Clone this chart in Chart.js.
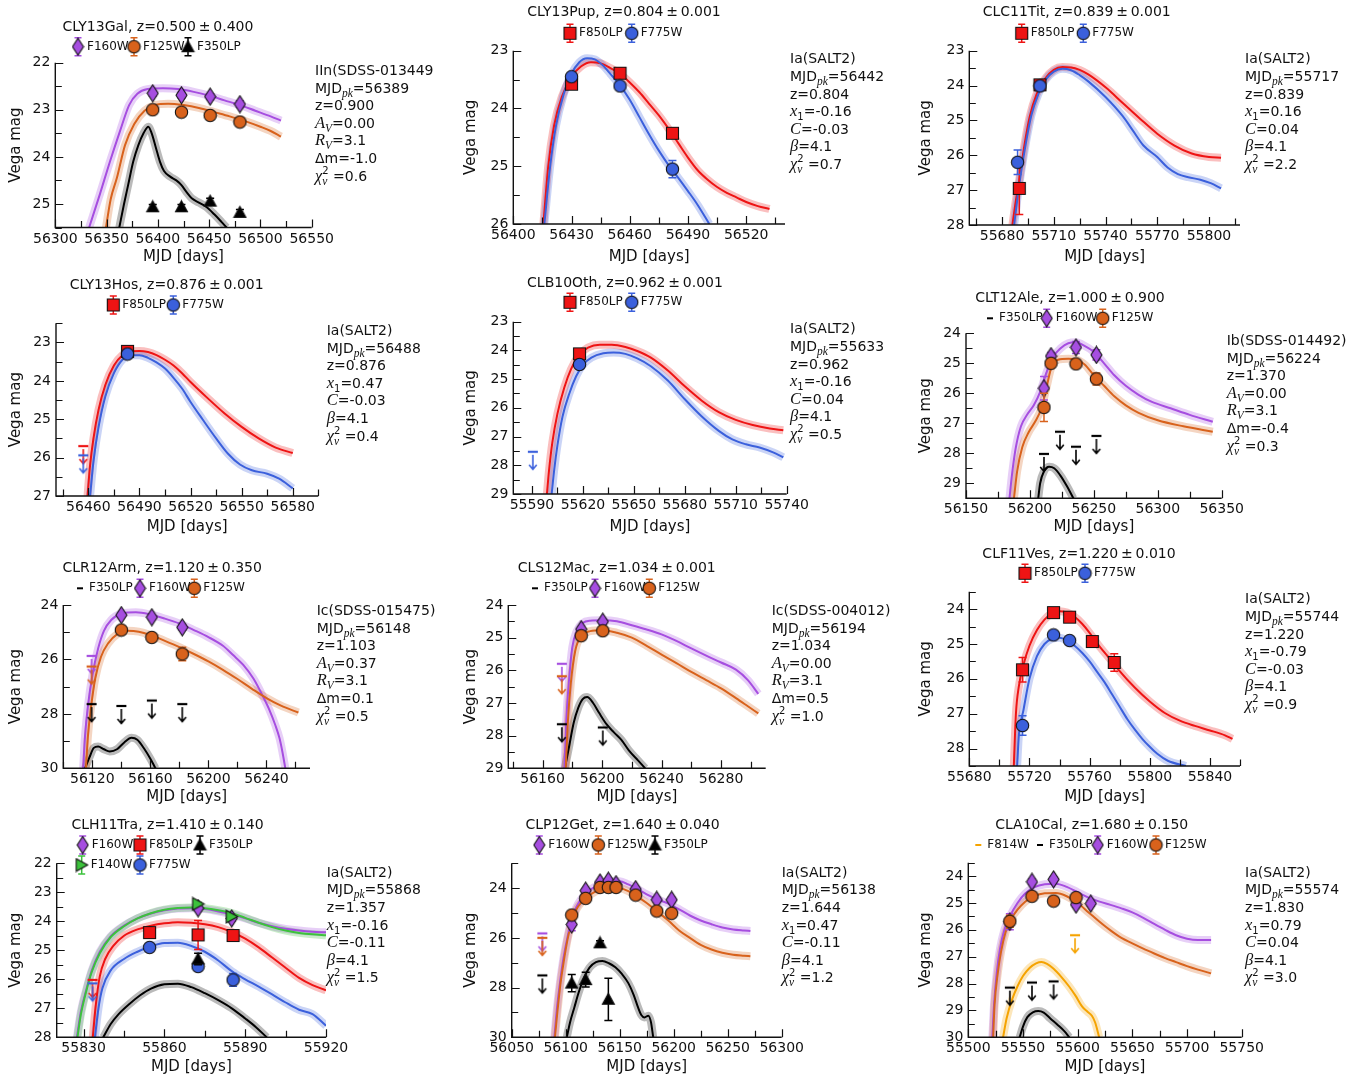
<!DOCTYPE html>
<html>
<head>
<meta charset="utf-8">
<script src="https://cdn.jsdelivr.net/npm/chart.js@4.4.1/dist/chart.umd.min.js"></script>
<style>
  html, body { margin: 0; padding: 0; background: #fff; width: 1364px; height: 1082px; overflow: hidden; }
  canvas { position: absolute; }
</style>
</head>
<body>
<script>
// ===================== Light-curve data =====================
// Each supernova: photometry (MJD, Vega mag, 1-sigma error), upper limits,
// and best-fit model curves as [MJD, mag] samples.

// ---- CLY13Gal ----
const galMjd = [56395, 56423, 56451, 56480];
const galF160W = [22.65, 22.69, 22.72, 22.88];
const galF160WErr = [0.06, 0.06, 0.06, 0.07];
const galF125W = [23.0, 23.05, 23.12, 23.26];
const galF125WErr = [0.05, 0.05, 0.05, 0.06];
const galF350LP = [25.06, 25.06, 24.94, 25.18];
const galF350LPErr = [0.05, 0.05, 0.06, 0.06];
const galModelF160W = [[56333,25.5],[56343.5,24.79],[56353,24.12],[56363,23.46],[56372,22.9],[56380,22.66],[56390,22.56],[56405,22.54],[56420,22.56],[56435,22.62],[56450,22.7],[56465,22.8],[56480,22.9],[56495,23.02],[56510,23.14],[56520,23.23]];
const galModelF125W = [[56349.4,25.5],[56354,24.9],[56360,24.45],[56368,23.75],[56377,23.3],[56387,23.02],[56397,22.9],[56410,22.87],[56425,22.9],[56440,22.96],[56455,23.05],[56470,23.14],[56485,23.24],[56500,23.36],[56510,23.45],[56520,23.57]];
const galModelF350LP = [[56362.4,25.5],[56367,25.0],[56371,24.6],[56376,24.1],[56381,23.75],[56386,23.5],[56390.7,23.36],[56394,23.5],[56398,23.8],[56402,24.1],[56406,24.3],[56412,24.42],[56418,24.5],[56423,24.6],[56428,24.75],[56433,24.88],[56440,24.97],[56447,25.06],[56455,25.22],[56462,25.38],[56467,25.5]];
const galXTicks = [56300, 56350, 56400, 56450, 56500, 56550];
const galYTicks = [22, 23, 24, 25];

// ---- CLY13Pup ----
const pupMjd = [56430, 56455, 56482];
const pupF850LP = [23.58, 23.39, 24.43];
const pupF850LPErr = [0.05, 0.05, 0.07];
const pupF775W = [23.45, 23.61, 25.05];
const pupF775WErr = [0.05, 0.05, 0.15];
const pupModelF850LP = [[56415.5,26],[56418,25.0],[56421,24.3],[56425,23.8],[56430,23.45],[56435,23.27],[56440,23.2],[56445,23.22],[56450,23.3],[56455,23.4],[56460,23.55],[56465,23.72],[56470,23.92],[56475,24.12],[56480,24.35],[56485,24.6],[56490,24.85],[56495,25.07],[56500,25.23],[56505,25.36],[56510,25.46],[56515,25.54],[56520,25.62],[56526,25.69],[56532,25.74]];
const pupModelF775W = [[56416,26],[56419,25.0],[56422,24.3],[56426,23.75],[56430,23.4],[56434,23.2],[56438,23.13],[56442,23.15],[56446,23.25],[56450,23.4],[56455,23.6],[56460,23.85],[56465,24.15],[56470,24.45],[56475,24.73],[56480,24.98],[56485,25.2],[56490,25.43],[56495,25.67],[56501,26.0]];
const pupXTicks = [56400, 56430, 56460, 56490, 56520];
const pupYTicks = [23, 24, 25, 26];

// ---- CLC11Tit ----
const titMjdF850LP = [55690, 55702];
const titF850LP = [26.95, 23.98];
const titF850LPErr = [0.75, 0.06];
const titMjdF775W = [55689, 55702];
const titF775W = [26.2, 24.01];
const titF775WErr = [0.35, 0.06];
const titModelF850LP = [[55686,28],[55688,27.3],[55690,26.7],[55693,25.7],[55696,24.9],[55700,24.25],[55705,23.8],[55710,23.55],[55715,23.47],[55720,23.48],[55725,23.55],[55730,23.68],[55740,24.05],[55750,24.5],[55760,24.95],[55770,25.38],[55780,25.72],[55790,25.95],[55800,26.05],[55807,26.07]];
const titModelF775W = [[55687,28],[55689,27.2],[55691,26.5],[55694,25.6],[55697,24.85],[55701,24.25],[55705,23.85],[55710,23.6],[55715,23.52],[55720,23.56],[55725,23.7],[55730,23.88],[55740,24.33],[55750,24.88],[55756,25.3],[55762,25.72],[55770,26.05],[55776,26.35],[55782,26.54],[55788,26.63],[55795,26.7],[55801,26.8],[55807,26.95]];
const titXTicks = [55680, 55710, 55740, 55770, 55800];
const titYTicks = [23, 24, 25, 26, 27, 28];

// ---- CLY13Hos ----
const hosMjd = [56483];
const hosF850LP = [23.23];
const hosF850LPErr = [0.05];
const hosF775W = [23.3];
const hosF775WErr = [0.05];
const hosLimMjd = [56457];
const hosLimF850LP = [25.7];
const hosLimF775W = [25.94];
const hosModelF850LP = [[56459.5,27],[56461,26.2],[56463,25.5],[56466,24.75],[56470,24.1],[56475,23.6],[56480,23.33],[56485,23.23],[56490,23.22],[56495,23.25],[56500,23.33],[56505,23.45],[56510,23.6],[56515,23.8],[56520,24.03],[56530,24.45],[56540,24.85],[56550,25.2],[56560,25.5],[56570,25.74],[56580,25.88]];
const hosModelF775W = [[56461,27],[56463,26.1],[56466,25.2],[56470,24.4],[56475,23.8],[56480,23.45],[56485,23.33],[56490,23.33],[56495,23.4],[56500,23.52],[56505,23.68],[56510,23.92],[56515,24.2],[56520,24.55],[56527,25.0],[56535,25.5],[56542,25.9],[56549,26.18],[56556,26.33],[56565,26.42],[56572,26.55],[56580,26.8]];
const hosXTicks = [56460, 56490, 56520, 56550, 56580];
const hosYTicks = [23, 24, 25, 26, 27];

// ---- CLB10Oth ----
const othMjd = [55618];
const othF850LP = [24.12];
const othF850LPErr = [0.06];
const othF775W = [24.49];
const othF775WErr = [0.06];
const othLimMjd = [55590.5];
const othLimF775W = [27.53];
const othModelF850LP = [[55598.8,29],[55600,28.2],[55602,27.2],[55605,26.2],[55609,25.3],[55613,24.65],[55618,24.15],[55623,23.9],[55630,23.8],[55637,23.8],[55645,23.88],[55652,24.02],[55660,24.25],[55670,24.7],[55680,25.25],[55690,25.75],[55700,26.15],[55710,26.42],[55720,26.6],[55730,26.72],[55738,26.78]];
const othModelF775W = [[55601.6,29],[55603,28.2],[55605,27.3],[55608,26.3],[55612,25.5],[55616,24.9],[55620,24.5],[55625,24.25],[55632,24.1],[55638,24.07],[55645,24.12],[55652,24.28],[55660,24.55],[55670,25.05],[55680,25.7],[55690,26.3],[55700,26.8],[55708,27.1],[55716,27.27],[55724,27.38],[55732,27.55],[55738,27.72]];
const othXTicks = [55590, 55620, 55650, 55680, 55710, 55740];
const othYTicks = [23, 24, 25, 26, 27, 28, 29];

// ---- CLT12Ale ----
const aleMjd = [56211, 56216.5, 56236, 56252];
const aleF160W = [25.83, 24.76, 24.47, 24.72];
const aleF160WErr = [0.39, 0.12, 0.2, 0.17];
const aleF125W = [26.47, 25.0, 25.02, 25.52];
const aleF125WErr = [0.47, 0.08, 0.08, 0.2];
const aleLimMjdF350LP = [56211, 56223.5, 56236, 56252];
const aleLimF350LP = [28.02, 27.28, 27.78, 27.42];
const aleModelF350LP = [[56206.5,29.5],[56208,29.0],[56211,28.6],[56215,28.45],[56219,28.5],[56224,28.75],[56229,29.1],[56234,29.5]];
const aleModelF160W = [[56184,29.5],[56186,28.7],[56189,27.8],[56193,27.1],[56198,26.7],[56203,26.4],[56208,25.95],[56213,25.3],[56218,24.8],[56224,24.5],[56230,24.33],[56236,24.3],[56242,24.4],[56250,24.62],[56258,25.0],[56266,25.4],[56275,25.75],[56285,26.05],[56295,26.28],[56310,26.5],[56325,26.72],[56343,26.95]];
const aleModelF125W = [[56187.5,29.5],[56190,28.6],[56194,27.8],[56199,27.3],[56204,26.95],[56209,26.5],[56213,25.8],[56217,25.1],[56222,24.88],[56230,24.85],[56236,24.87],[56243,25.05],[56250,25.4],[56258,25.75],[56266,26.1],[56275,26.4],[56285,26.65],[56300,26.9],[56320,27.1],[56343,27.28]];
const aleXTicks = [56150, 56200, 56250, 56300, 56350];
const aleYTicks = [24, 25, 26, 27, 28, 29];

// ---- CLR12Arm ----
const armMjd = [56140, 56161, 56182];
const armF160W = [24.37, 24.45, 24.82];
const armF160WErr = [0.08, 0.08, 0.1];
const armF125W = [24.92, 25.19, 25.8];
const armF125WErr = [0.06, 0.06, 0.25];
const armLimMjd = [56119.5];
const armLimF160W = [25.87];
const armLimF125W = [26.26];
const armLimMjdF350LP = [56119.5, 56140, 56161, 56182];
const armLimF350LP = [27.64, 27.71, 27.51, 27.64];
const armModelF350LP = [[56115,30],[56118,29.6],[56121,29.25],[56124,29.2],[56128,29.3],[56132,29.38],[56137,29.3],[56142,29.05],[56147,28.88],[56151,28.95],[56156,29.3],[56160,29.65],[56163.5,30]];
const armModelF160W = [[56113.7,30],[56115,28.8],[56117,27.7],[56120,26.6],[56124,25.6],[56128,24.95],[56133,24.55],[56140,24.32],[56150,24.27],[56160,24.35],[56170,24.5],[56180,24.68],[56190,24.92],[56200,25.18],[56210,25.5],[56217,25.84],[56224,26.2],[56231,26.7],[56237.7,27.37],[56242,27.85],[56246,28.4],[56249,28.9],[56251,29.4],[56253,30]];
const armModelF125W = [[56115.6,30],[56117,28.8],[56119,27.8],[56122,26.7],[56126,25.9],[56131,25.4],[56137,25.08],[56144,24.95],[56152,24.98],[56160,25.1],[56170,25.32],[56180,25.55],[56190,25.8],[56200,26.07],[56210,26.38],[56220,26.72],[56230,27.08],[56240,27.42],[56250,27.7],[56262,27.95]];
const armXTicks = [56120, 56160, 56200, 56240];
const armYTicks = [24, 26, 28, 30];

// ---- CLS12Mac ----
const macMjd = [56186, 56200.5];
const macF160W = [24.74, 24.51];
const macF160WErr = [0.08, 0.08];
const macF125W = [24.94, 24.79];
const macF125WErr = [0.06, 0.06];
const macLimMjd = [56173];
const macLimF160W = [25.8];
const macLimF125W = [26.18];
const macLimMjdF350LP = [56173, 56200.5];
const macLimF350LP = [27.65, 27.75];
const macModelF350LP = [[56175,29],[56178,28.3],[56181,27.6],[56184,27.15],[56187,26.88],[56190,26.82],[56194,27.0],[56198,27.3],[56203,27.65],[56208,27.9],[56213,28.13],[56218,28.45],[56224,28.75],[56229,29]];
const macModelF160W = [[56174.8,29],[56176,27.5],[56178,26.2],[56180,25.3],[56183,24.8],[56187,24.55],[56192,24.48],[56200,24.47],[56210,24.5],[56220,24.62],[56230,24.75],[56240,24.9],[56250,25.1],[56260,25.33],[56270,25.55],[56280,25.76],[56290,25.98],[56298,26.3],[56305,26.72]];
const macModelF125W = [[56175.6,29],[56177,27.6],[56179,26.4],[56182,25.4],[56186,24.95],[56192,24.8],[56200,24.77],[56210,24.85],[56220,25.0],[56230,25.25],[56240,25.52],[56250,25.78],[56260,26.05],[56270,26.3],[56280,26.55],[56290,26.85],[56298,27.1],[56305,27.32]];
const macXTicks = [56160, 56200, 56240, 56280];
const macYTicks = [24, 25, 26, 27, 28, 29];

// ---- CLF11Ves ----
const vesMjdF850LP = [55715.4, 55736, 55746.7, 55761.8, 55776.4];
const vesF850LP = [25.74, 24.1, 24.23, 24.93, 25.53];
const vesF850LPErr = [0.35, 0.06, 0.06, 0.08, 0.25];
const vesMjdF775W = [55715.4, 55736, 55746.7];
const vesF775W = [27.34, 24.74, 24.9];
const vesF775WErr = [0.28, 0.06, 0.06];
const vesModelF850LP = [[55709.6,28.5],[55711,27.0],[55713,26.2],[55716,25.6],[55720,25.05],[55725,24.6],[55730,24.3],[55735,24.12],[55740,24.06],[55745,24.1],[55750,24.22],[55755,24.42],[55760,24.68],[55765,24.98],[55770,25.25],[55775,25.5],[55780,25.78],[55790,26.25],[55800,26.65],[55810,26.98],[55820,27.2],[55830,27.35],[55840,27.48],[55850,27.62],[55855,27.72]];
const vesModelF775W = [[55711.8,28.5],[55713,27.6],[55716,26.9],[55720,26.0],[55725,25.35],[55730,25.0],[55735,24.85],[55740,24.82],[55745,24.9],[55750,25.05],[55755,25.25],[55760,25.5],[55765,25.8],[55770,26.1],[55775,26.45],[55780,26.8],[55785,27.15],[55790,27.45],[55795,27.72],[55800,27.95],[55805,28.15],[55812,28.35],[55824,28.5]];
const vesXTicks = [55680, 55720, 55760, 55800, 55840];
const vesYTicks = [24, 25, 26, 27, 28];

// ---- CLH11Tra ----
const traMjdIR = [55872.5, 55885];
const traF160W = [23.55, 23.9];
const traF160WErr = [0.08, 0.1];
const traF140W = [23.4, 23.84];
const traF140WErr = [0.05, 0.05];
const traMjdOpt = [55854.5, 55872.5, 55885.5];
const traF850LP = [24.39, 24.47, 24.49];
const traF850LPErr = [0.06, 0.5, 0.06];
const traF775W = [24.9, 25.56, 26.02];
const traF775WErr = [0.06, 0.12, 0.22];
const traMjdF350LP = [55872.5];
const traF350LP = [25.3];
const traF350LPErr = [0.2];
const traLimMjd = [55833.3];
const traLimF850LP = [26.02];
const traLimF775W = [26.14];
const traModelF160W = [[55827.5,28],[55829,27.1],[55831,26.35],[55833,25.7],[55836,25.05],[55840,24.52],[55845,24.15],[55850,23.9],[55855,23.73],[55860,23.62],[55865,23.56],[55870,23.55],[55875,23.58],[55880,23.66],[55885,23.77],[55890,23.9],[55895,24.05],[55900,24.17],[55905,24.26],[55910,24.32],[55915,24.36],[55920,24.38]];
const traModelF140W = [[55827.7,28],[55829,27.2],[55831,26.4],[55833,25.75],[55836,25.1],[55840,24.55],[55845,24.17],[55850,23.9],[55855,23.72],[55860,23.6],[55865,23.54],[55870,23.52],[55875,23.55],[55880,23.62],[55885,23.72],[55890,23.88],[55895,24.05],[55900,24.2],[55905,24.32],[55910,24.4],[55915,24.45],[55920,24.48]];
const traModelF850LP = [[55833.4,28],[55834.5,26.9],[55836,25.9],[55838,25.3],[55841,24.85],[55845,24.5],[55850,24.28],[55855,24.15],[55860,24.07],[55865,24.03],[55870,24.05],[55875,24.1],[55880,24.2],[55885,24.37],[55890,24.6],[55895,24.9],[55900,25.25],[55905,25.6],[55910,25.95],[55915,26.2],[55920,26.38]];
const traModelF775W = [[55834.2,28],[55835.5,27.0],[55837,26.3],[55840,25.7],[55845,25.3],[55850,25.05],[55855,24.86],[55860,24.75],[55865,24.74],[55870,24.85],[55875,25.05],[55880,25.35],[55885,25.72],[55890,26.0],[55895,26.25],[55900,26.52],[55905,26.8],[55910,27.05],[55915,27.2],[55920,27.6]];
const traModelF350LP = [[55837.3,28],[55840,27.55],[55843,27.2],[55847,26.85],[55851,26.55],[55855,26.32],[55860,26.17],[55865,26.15],[55870,26.27],[55875,26.48],[55880,26.72],[55885,27.0],[55890,27.35],[55894,27.65],[55898,28]];
const traXTicks = [55830, 55860, 55890, 55920];
const traYTicks = [22, 23, 24, 25, 26, 27, 28];

// ---- CLP12Get ----
const getMjd = [56105.6, 56118.5, 56131.8, 56139.5, 56146.6, 56164.8, 56184.3, 56198.1];
const getF160W = [25.46, 24.1, 23.77, 23.7, 23.84, 24.04, 24.47, 24.47];
const getF160WErr = [0.25, 0.08, 0.06, 0.06, 0.06, 0.08, 0.1, 0.1];
const getF125W = [25.08, 24.41, 23.97, 23.97, 23.97, 24.28, 24.92, 25.01];
const getF125WErr = [0.06, 0.05, 0.05, 0.05, 0.05, 0.05, 0.06, 0.06];
const getMjdF350LP = [56105.6, 56118.5, 56131.8, 56139.5];
const getF350LP = [27.82, 27.68, 26.2, 28.47];
const getF350LPErr = [0.35, 0.3, 0.08, 0.85];
const getLimMjd = [56078.4];
const getLimF160W = [25.82];
const getLimF125W = [26.0];
const getLimF350LP = [27.51];
const getModelF160W = [[56089.5,30],[56092,28.8],[56095,27.7],[56098,26.8],[56102,25.9],[56106,25.2],[56110,24.75],[56115,24.4],[56120,24.15],[56127,23.95],[56135,23.8],[56143,23.72],[56150,23.72],[56158,23.85],[56166,24.02],[56175,24.25],[56185,24.45],[56195,24.62],[56205,24.85],[56215,25.1],[56225,25.3],[56235,25.45],[56245,25.58],[56255,25.66],[56265,25.7],[56271,25.72]];
const getModelF125W = [[56090,30],[56092.5,28.9],[56095,27.9],[56098,27.0],[56102,26.0],[56106,25.3],[56110,24.85],[56115,24.55],[56120,24.35],[56127,24.15],[56135,24.02],[56143,23.97],[56150,23.99],[56158,24.12],[56166,24.33],[56175,24.6],[56185,24.95],[56195,25.3],[56205,25.7],[56215,26.0],[56225,26.28],[56235,26.47],[56245,26.6],[56255,26.68],[56265,26.72],[56271,26.74]];
const getModelF350LP = [[56101,30],[56104,29.4],[56108,28.8],[56112,28.2],[56117,27.6],[56122,27.2],[56128,26.98],[56134,26.93],[56140,27.02],[56146,27.18],[56152,27.45],[56158,27.82],[56163,28.3],[56167,28.8],[56170,29.1],[56173,29.2],[56176.5,29.13],[56179,29.4],[56181,30]];
const getXTicks = [56050, 56100, 56150, 56200, 56250, 56300];
const getYTicks = [24, 26, 28, 30];

// ---- CLA10Cal ----
const calMjdF160W = [55538, 55558.2, 55578, 55598.5, 55612];
const calF160W = [25.7, 24.21, 24.12, 25.06, 25.02];
const calF160WErr = [0.3, 0.1, 0.1, 0.1, 0.1];
const calMjdF125W = [55538, 55558.2, 55578, 55598.5];
const calF125W = [25.68, 24.75, 24.93, 24.8];
const calF125WErr = [0.22, 0.05, 0.05, 0.05];
const calLimMjdF814W = [55597.6];
const calLimF814W = [26.2];
const calLimMjdF350LP = [55538, 55558.2, 55578];
const calLimF350LP = [28.15, 27.96, 27.92];
const calModelF814W = [[55531.8,30],[55535,29.3],[55540,28.6],[55545,28.1],[55550,27.72],[55556,27.42],[55562,27.25],[55567,27.2],[55572,27.27],[55578,27.45],[55585,27.75],[55592,28.1],[55598,28.45],[55604,28.85],[55609,29.05],[55613,29.2],[55616,29.45],[55619.7,30]];
const calModelF350LP = [[55547,30],[55550,29.6],[55554,29.25],[55559,29.07],[55564,29.02],[55569,29.08],[55575,29.3],[55582,29.55],[55588,29.78],[55592.4,30]];
const calModelF160W = [[55522,30],[55523.5,28.8],[55526,27.6],[55529,26.7],[55533,26.0],[55538,25.5],[55545,25.0],[55552,24.65],[55560,24.42],[55570,24.3],[55580,24.28],[55590,24.4],[55600,24.6],[55610,24.8],[55620,24.95],[55630,25.07],[55640,25.2],[55650,25.35],[55660,25.55],[55670,25.78],[55680,26.0],[55690,26.2],[55700,26.33],[55710,26.38],[55722,26.38]];
const calModelF125W = [[55522.7,30],[55524,28.8],[55527,27.6],[55530,26.8],[55534,26.1],[55539,25.6],[55545,25.25],[55552,24.95],[55560,24.75],[55570,24.64],[55580,24.63],[55590,24.75],[55600,25.0],[55610,25.35],[55620,25.7],[55630,26.02],[55640,26.3],[55650,26.5],[55660,26.7],[55670,26.88],[55680,27.05],[55690,27.2],[55700,27.35],[55710,27.48],[55722,27.62]];
const calXTicks = [55500, 55550, 55600, 55650, 55700, 55750];
const calYTicks = [24, 25, 26, 27, 28, 29, 30];

// ===================== Styling =====================
const FONT = "'DejaVu Sans', 'Liberation Sans', sans-serif";
const MATH = "'Liberation Serif', 'DejaVu Serif', serif";
const FILTERS = {
  F160W:  { color: '#a64ee0', shape: 'd' },
  F125W:  { color: '#d8621c', shape: 'o' },
  F350LP: { color: '#000000', shape: '^' },
  F850LP: { color: '#ee1414', shape: 's' },
  F775W:  { color: '#3b60dc', shape: 'o' },
  F140W:  { color: '#3cc23c', shape: '>' },
  F814W:  { color: '#f5a300', shape: 'o' }
};
const CELL_X = [0, 455, 910];
const CELL_W = [455, 455, 441];
const CELL_Y = [0, 270, 540, 810];
const CELL_H = 270;

function rgba(hex, a) {
  const n = parseInt(hex.slice(1), 16);
  return `rgba(${(n >> 16) & 255},${(n >> 8) & 255},${n & 255},${a})`;
}

function markerCanvas(shape, color) {
  const c = document.createElement('canvas');
  const g = c.getContext('2d');
  g.beginPath();
  if (shape === 'o') { c.width = 15; c.height = 15; g.beginPath(); g.arc(7.5, 7.5, 6.2, 0, Math.PI * 2); }
  else if (shape === 's') { c.width = 15; c.height = 15; g.beginPath(); g.rect(1.5, 1.5, 12, 12); }
  else if (shape === 'd') { c.width = 13; c.height = 19; g.beginPath(); g.moveTo(6.5, 1); g.lineTo(12, 9.5); g.lineTo(6.5, 18); g.lineTo(1, 9.5); g.closePath(); }
  else if (shape === '^') { c.width = 15; c.height = 15; g.beginPath(); g.moveTo(7.5, 1.5); g.lineTo(13.5, 12.5); g.lineTo(1.5, 12.5); g.closePath(); }
  else if (shape === '>') { c.width = 15; c.height = 15; g.beginPath(); g.moveTo(13.5, 7.5); g.lineTo(2, 1.2); g.lineTo(2, 13.8); g.closePath(); }
  g.fillStyle = color; g.fill();
  g.lineWidth = 1.1; g.strokeStyle = '#111'; g.stroke();
  return c;
}

// Upper limit glyph: bar at the limiting magnitude with an arrow pointing fainter.
function limitCanvas(color) {
  const c = document.createElement('canvas');
  c.width = 14; c.height = 44;
  const g = c.getContext('2d');
  g.strokeStyle = color;
  g.lineWidth = 2.2; g.beginPath(); g.moveTo(2, 22); g.lineTo(12, 22); g.stroke();
  g.lineWidth = 1.6; g.beginPath();
  g.moveTo(7, 25); g.lineTo(7, 39.5);
  g.moveTo(3.2, 35); g.lineTo(7, 39.5); g.lineTo(10.8, 35);
  g.stroke();
  return c;
}

const pts = (xs, ys) => xs.map((x, i) => ({ x, y: ys[i] }));
const curve = arr => arr.map(([x, y]) => ({ x, y }));

function stepValues(min, max, step) {
  const out = [];
  for (let v = Math.ceil(min / step - 1e-9) * step; v <= max + 1e-9; v += step) out.push(Math.round(v * 1000) / 1000);
  return out;
}

// Mini markup: $..$ = math italic, _{..} subscript, ^{..} superscript (stacked when adjacent).
function parseRich(str) {
  const out = []; let i = 0, italic = false, buf = '';
  const flush = () => { if (buf) { out.push({ t: buf, it: italic, pos: 0 }); buf = ''; } };
  while (i < str.length) {
    const c = str[i];
    if (c === '$') { flush(); italic = !italic; i++; continue; }
    if ((c === '_' || c === '^') && str[i + 1] === '{') {
      flush();
      const end = str.indexOf('}', i);
      let inner = str.slice(i + 2, end), it = italic;
      if (inner.indexOf('$') >= 0) { it = true; inner = inner.replace(/\$/g, ''); }
      const pos = c === '_' ? -1 : 1;
      const prev = out[out.length - 1];
      out.push({ t: inner, it, pos, stack: !!(prev && prev.pos === -pos) });
      i = end + 1; continue;
    }
    buf += c; i++;
  }
  flush();
  return out;
}

function drawRich(ctx, x, y, str) {
  let cx = x, lastStart = x;
  ctx.textBaseline = 'alphabetic';
  ctx.textAlign = 'left';
  for (const it of parseRich(str)) {
    const base = it.pos === 0;
    const sz = it.it ? (base ? 16.5 : 11.5) : (base ? 14 : 10);
    ctx.font = `${it.it ? 'italic ' : ''}${sz}px ${it.it ? MATH : FONT}`;
    const w = ctx.measureText(it.t).width;
    const dx = it.stack ? lastStart : cx;
    const dy = it.pos === -1 ? y + 4 : it.pos === 1 ? y - 6.5 : y;
    ctx.fillText(it.t, dx, dy);
    if (it.stack) cx = Math.max(cx, dx + w);
    else { lastStart = dx; cx = dx + w; }
  }
}

// ===================== Panels =====================
const PANELS = [
  { col: 0, row: 0, title: 'CLY13Gal, z=0.500\u2009±\u20090.400', titleX: 158, titleY: 27,
    box: { L: 55.3, T: 62.7, R: 311.7, B: 227.5 },
    x: { min: 56300, max: 56550, ticks: galXTicks, minor: 25 }, y: { min: 22, max: 25.5, ticks: galYTicks, minor: 0.5 },
    legend: [['F160W', 'm', 78, 46.7], ['F125W', 'm', 134, 46.7], ['F350LP', 'm', 188, 46.7]],
    annot: { x: 315, y: 70, lines: ['IIn(SDSS-013449', 'MJD_{$pk$}=56389', 'z=0.900', '$A$_{$V$}=0.00', '$R$_{$V$}=3.1', 'Δm=-1.0', '$χ$^{2}_{$ν$} =0.6'] },
    series: [
      { f: 'F160W', model: galModelF160W, mjd: galMjd, mag: galF160W, err: galF160WErr },
      { f: 'F125W', model: galModelF125W, mjd: galMjd, mag: galF125W, err: galF125WErr },
      { f: 'F350LP', model: galModelF350LP, mjd: galMjd, mag: galF350LP, err: galF350LPErr }
    ] },
  { col: 1, row: 0, title: 'CLY13Pup, z=0.804\u2009±\u20090.001', titleX: 169, titleY: 12.7,
    box: { L: 58.3, T: 50.7, R: 330, B: 224 },
    x: { min: 56400, max: 56540, ticks: pupXTicks, minor: 15 }, y: { min: 23, max: 26, ticks: pupYTicks, minor: 0.5 },
    legend: [['F850LP', 'm', 115, 33.3], ['F775W', 'm', 176.7, 33.3]],
    annot: { x: 335, y: 58.3, lines: ['Ia(SALT2)', 'MJD_{$pk$}=56442', 'z=0.804', '$x$_{1}=-0.16', '$C$=-0.03', '$β$=4.1', '$χ$^{2}_{$ν$} =0.7'] },
    series: [
      { f: 'F850LP', model: pupModelF850LP, mjd: pupMjd, mag: pupF850LP, err: pupF850LPErr },
      { f: 'F775W', model: pupModelF775W, mjd: pupMjd, mag: pupF775W, err: pupF775WErr }
    ] },
  { col: 2, row: 0, title: 'CLC11Tit, z=0.839\u2009±\u20090.001', titleX: 166.7, titleY: 12.7,
    box: { L: 59.3, T: 50.7, R: 330, B: 225 },
    x: { min: 55661, max: 55818, ticks: titXTicks, minor: 15 }, y: { min: 23, max: 28, ticks: titYTicks, minor: 0.5 },
    legend: [['F850LP', 'm', 111.7, 33.3], ['F775W', 'm', 173.3, 33.3]],
    annot: { x: 335, y: 58.3, lines: ['Ia(SALT2)', 'MJD_{$pk$}=55717', 'z=0.839', '$x$_{1}=0.16', '$C$=0.04', '$β$=4.1', '$χ$^{2}_{$ν$} =2.2'] },
    series: [
      { f: 'F850LP', model: titModelF850LP, mjd: titMjdF850LP, mag: titF850LP, err: titF850LPErr },
      { f: 'F775W', model: titModelF775W, mjd: titMjdF775W, mag: titF775W, err: titF775WErr }
    ] },
  { col: 0, row: 1, title: 'CLY13Hos, z=0.876\u2009±\u20090.001', titleX: 166.7, titleY: 15,
    box: { L: 56, T: 53.3, R: 318.3, B: 226 },
    x: { min: 56441, max: 56595, ticks: hosXTicks, minor: 15 }, y: { min: 22.5, max: 27, ticks: hosYTicks, minor: 0.5 },
    legend: [['F850LP', 'm', 113.3, 35], ['F775W', 'm', 173.3, 35]],
    annot: { x: 326.7, y: 60, lines: ['Ia(SALT2)', 'MJD_{$pk$}=56488', 'z=0.876', '$x$_{1}=0.47', '$C$=-0.03', '$β$=4.1', '$χ$^{2}_{$ν$} =0.4'] },
    series: [
      { f: 'F850LP', model: hosModelF850LP, mjd: hosMjd, mag: hosF850LP, err: hosF850LPErr, limMjd: hosLimMjd, limMag: hosLimF850LP },
      { f: 'F775W', model: hosModelF775W, mjd: hosMjd, mag: hosF775W, err: hosF775WErr, limMjd: hosLimMjd, limMag: hosLimF775W }
    ] },
  { col: 1, row: 1, title: 'CLB10Oth, z=0.962\u2009±\u20090.001', titleX: 170, titleY: 13.3,
    box: { L: 58.3, T: 51.7, R: 331.7, B: 224 },
    x: { min: 55579, max: 55740, ticks: othXTicks, minor: 15 }, y: { min: 23, max: 29, ticks: othYTicks, minor: 0.5 },
    legend: [['F850LP', 'm', 115, 32.3], ['F775W', 'm', 176.7, 32.3]],
    annot: { x: 335, y: 58.3, lines: ['Ia(SALT2)', 'MJD_{$pk$}=55633', 'z=0.962', '$x$_{1}=-0.16', '$C$=0.04', '$β$=4.1', '$χ$^{2}_{$ν$} =0.5'] },
    series: [
      { f: 'F850LP', model: othModelF850LP, mjd: othMjd, mag: othF850LP, err: othF850LPErr },
      { f: 'F775W', model: othModelF775W, mjd: othMjd, mag: othF775W, err: othF775WErr, limMjd: othLimMjd, limMag: othLimF775W }
    ] },
  { col: 2, row: 1, title: 'CLT12Ale, z=1.000\u2009±\u20090.900', titleX: 160, titleY: 28.3,
    box: { L: 56, T: 63.3, R: 311.7, B: 228.3 },
    x: { min: 56150, max: 56350, ticks: aleXTicks, minor: 25 }, y: { min: 24, max: 29.5, ticks: aleYTicks, minor: 0.5 },
    legend: [['F350LP', 'l', 80, 48.3], ['F160W', 'm', 136.7, 48.3], ['F125W', 'm', 192.7, 48.3]],
    annot: { x: 316.7, y: 70, lines: ['Ib(SDSS-014492)', 'MJD_{$pk$}=56224', 'z=1.370', '$A$_{$V$}=0.00', '$R$_{$V$}=3.1', 'Δm=-0.4', '$χ$^{2}_{$ν$} =0.3'] },
    series: [
      { f: 'F350LP', model: aleModelF350LP, limMjd: aleLimMjdF350LP, limMag: aleLimF350LP },
      { f: 'F160W', model: aleModelF160W, mjd: aleMjd, mag: aleF160W, err: aleF160WErr },
      { f: 'F125W', model: aleModelF125W, mjd: aleMjd, mag: aleF125W, err: aleF125WErr }
    ] },
  { col: 0, row: 2, title: 'CLR12Arm, z=1.120\u2009±\u20090.350', titleX: 162.2, titleY: 28.3,
    box: { L: 63.3, T: 65, R: 310, B: 228.3 },
    x: { min: 56100, max: 56270, ticks: armXTicks, minor: 20 }, y: { min: 24, max: 30, ticks: armYTicks, minor: 1 },
    legend: [['F350LP', 'l', 80, 48.3], ['F160W', 'm', 140, 48.3], ['F125W', 'm', 194.3, 48.3]],
    annot: { x: 316.7, y: 70, lines: ['Ic(SDSS-015475)', 'MJD_{$pk$}=56148', 'z=1.103', '$A$_{$V$}=0.37', '$R$_{$V$}=3.1', 'Δm=0.1', '$χ$^{2}_{$ν$} =0.5'] },
    series: [
      { f: 'F350LP', model: armModelF350LP, limMjd: armLimMjdF350LP, limMag: armLimF350LP },
      { f: 'F160W', model: armModelF160W, mjd: armMjd, mag: armF160W, err: armF160WErr, limMjd: armLimMjd, limMag: armLimF160W },
      { f: 'F125W', model: armModelF125W, mjd: armMjd, mag: armF125W, err: armF125WErr, limMjd: armLimMjd, limMag: armLimF125W }
    ] },
  { col: 1, row: 2, title: 'CLS12Mac, z=1.034\u2009±\u20090.001', titleX: 161.7, titleY: 28.3,
    box: { L: 53.3, T: 65, R: 310.7, B: 228.3 },
    x: { min: 56137, max: 56310, ticks: macXTicks, minor: 20 }, y: { min: 24, max: 29, ticks: macYTicks, minor: 0.5 },
    legend: [['F350LP', 'l', 80, 48.3], ['F160W', 'm', 140, 48.3], ['F125W', 'm', 194.3, 48.3]],
    annot: { x: 316.7, y: 70, lines: ['Ic(SDSS-004012)', 'MJD_{$pk$}=56194', 'z=1.034', '$A$_{$V$}=0.00', '$R$_{$V$}=3.1', 'Δm=0.5', '$χ$^{2}_{$ν$} =1.0'] },
    series: [
      { f: 'F350LP', model: macModelF350LP, limMjd: macLimMjdF350LP, limMag: macLimF350LP },
      { f: 'F160W', model: macModelF160W, mjd: macMjd, mag: macF160W, err: macF160WErr, limMjd: macLimMjd, limMag: macLimF160W },
      { f: 'F125W', model: macModelF125W, mjd: macMjd, mag: macF125W, err: macF125WErr, limMjd: macLimMjd, limMag: macLimF125W }
    ] },
  { col: 2, row: 2, title: 'CLF11Ves, z=1.220\u2009±\u20090.010', titleX: 169, titleY: 14,
    box: { L: 59.3, T: 51.7, R: 330, B: 226 },
    x: { min: 55680, max: 55860, ticks: vesXTicks, minor: 20 }, y: { min: 23.5, max: 28.5, ticks: vesYTicks, minor: 0.5 },
    legend: [['F850LP', 'm', 115, 33.3], ['F775W', 'm', 175, 33.3]],
    annot: { x: 335, y: 58.3, lines: ['Ia(SALT2)', 'MJD_{$pk$}=55744', 'z=1.220', '$x$_{1}=-0.79', '$C$=-0.03', '$β$=4.1', '$χ$^{2}_{$ν$} =0.9'] },
    series: [
      { f: 'F850LP', model: vesModelF850LP, mjd: vesMjdF850LP, mag: vesF850LP, err: vesF850LPErr },
      { f: 'F775W', model: vesModelF775W, mjd: vesMjdF775W, mag: vesF775W, err: vesF775WErr }
    ] },
  { col: 0, row: 3, title: 'CLH11Tra, z=1.410\u2009±\u20090.140', titleX: 167.5, titleY: 15,
    box: { L: 56.7, T: 53.3, R: 326, B: 227.3 },
    x: { min: 55820, max: 55920, ticks: traXTicks, minor: 15 }, y: { min: 22, max: 28, ticks: traYTicks, minor: 0.5 },
    legend: [['F160W', 'm', 82.7, 35], ['F850LP', 'm', 140, 35], ['F350LP', 'm', 200, 35], ['F140W', 'm', 81.7, 55], ['F775W', 'm', 140, 55]],
    annot: { x: 326.7, y: 61.7, lines: ['Ia(SALT2)', 'MJD_{$pk$}=55868', 'z=1.357', '$x$_{1}=-0.16', '$C$=-0.11', '$β$=4.1', '$χ$^{2}_{$ν$} =1.5'] },
    series: [
      { f: 'F160W', model: traModelF160W, mjd: traMjdIR, mag: traF160W, err: traF160WErr },
      { f: 'F140W', model: traModelF140W, mjd: traMjdIR, mag: traF140W, err: traF140WErr },
      { f: 'F850LP', model: traModelF850LP, mjd: traMjdOpt, mag: traF850LP, err: traF850LPErr, limMjd: traLimMjd, limMag: traLimF850LP },
      { f: 'F775W', model: traModelF775W, mjd: traMjdOpt, mag: traF775W, err: traF775WErr, limMjd: traLimMjd, limMag: traLimF775W },
      { f: 'F350LP', model: traModelF350LP, mjd: traMjdF350LP, mag: traF350LP, err: traF350LPErr }
    ] },
  { col: 1, row: 3, title: 'CLP12Get, z=1.640\u2009±\u20090.040', titleX: 167.5, titleY: 15,
    box: { L: 56.7, T: 53.3, R: 326.7, B: 227.3 },
    x: { min: 56050, max: 56300, ticks: getXTicks, minor: 25 }, y: { min: 23, max: 30, ticks: getYTicks, minor: 1 },
    legend: [['F160W', 'm', 84.3, 35], ['F125W', 'm', 143.3, 35], ['F350LP', 'm', 200, 35]],
    annot: { x: 326.7, y: 61.7, lines: ['Ia(SALT2)', 'MJD_{$pk$}=56138', 'z=1.644', '$x$_{1}=0.47', '$C$=-0.11', '$β$=4.1', '$χ$^{2}_{$ν$} =1.2'] },
    series: [
      { f: 'F160W', model: getModelF160W, mjd: getMjd, mag: getF160W, err: getF160WErr, limMjd: getLimMjd, limMag: getLimF160W },
      { f: 'F125W', model: getModelF125W, mjd: getMjd, mag: getF125W, err: getF125WErr, limMjd: getLimMjd, limMag: getLimF125W },
      { f: 'F350LP', model: getModelF350LP, mjd: getMjdF350LP, mag: getF350LP, err: getF350LPErr, limMjd: getLimMjd, limMag: getLimF350LP }
    ] },
  { col: 2, row: 3, title: 'CLA10Cal, z=1.680\u2009±\u20090.150', titleX: 181.7, titleY: 15,
    box: { L: 58.3, T: 52.7, R: 331.7, B: 227.3 },
    x: { min: 55500, max: 55750, ticks: calXTicks, minor: 25 }, y: { min: 23.5, max: 30, ticks: calYTicks, minor: 0.5 },
    legend: [['F814W', 'l', 68.3, 35], ['F350LP', 'l', 130, 35], ['F160W', 'm', 187.7, 35], ['F125W', 'm', 246, 35]],
    annot: { x: 335, y: 61.7, lines: ['Ia(SALT2)', 'MJD_{$pk$}=55574', 'z=1.830', '$x$_{1}=0.79', '$C$=0.04', '$β$=4.1', '$χ$^{2}_{$ν$} =3.0'] },
    series: [
      { f: 'F814W', model: calModelF814W, limMjd: calLimMjdF814W, limMag: calLimF814W },
      { f: 'F350LP', model: calModelF350LP, limMjd: calLimMjdF350LP, limMag: calLimF350LP },
      { f: 'F160W', model: calModelF160W, mjd: calMjdF160W, mag: calF160W, err: calF160WErr },
      { f: 'F125W', model: calModelF125W, mjd: calMjdF125W, mag: calF125W, err: calF125WErr }
    ] }
];

// Error bars are painted just before their marker dataset so markers sit on top.
const errorBarPlugin = {
  id: 'errorBars',
  beforeDatasetDraw(chart, args) {
    const ds = chart.data.datasets[args.index];
    if (!ds.errs) return;
    const ctx = chart.ctx, xs = chart.scales.x, ys = chart.scales.y;
    ctx.save();
    ctx.strokeStyle = ds.errColor;
    ctx.lineWidth = 1.5;
    ds.data.forEach((p, i) => {
      const e = ds.errs[i];
      const px = xs.getPixelForValue(p.x);
      const y1 = ys.getPixelForValue(p.y - e), y2 = ys.getPixelForValue(p.y + e);
      ctx.beginPath();
      ctx.moveTo(px, y1); ctx.lineTo(px, y2);
      ctx.moveTo(px - 4, y1); ctx.lineTo(px + 4, y1);
      ctx.moveTo(px - 4, y2); ctx.lineTo(px + 4, y2);
      ctx.stroke();
    });
    ctx.restore();
  }
};

function decorPlugin(p, markers) {
  return {
    id: 'decor',
    afterDraw(chart) {
      const ctx = chart.ctx, a = chart.chartArea, xs = chart.scales.x, ys = chart.scales.y;
      ctx.save();
      // spines
      ctx.strokeStyle = '#111';
      ctx.lineWidth = 1.4;
      ctx.beginPath();
      ctx.moveTo(a.left, a.top); ctx.lineTo(a.left, a.bottom); ctx.lineTo(a.right, a.bottom);
      ctx.stroke();
      // inward ticks
      ctx.lineWidth = 1.2;
      ctx.beginPath();
      stepValues(p.x.min, p.x.max, p.x.minor).forEach(v => {
        const px = Math.round(xs.getPixelForValue(v)) + 0.5;
        const len = p.x.ticks.includes(v) ? 8 : 6.5;
        ctx.moveTo(px, a.bottom); ctx.lineTo(px, a.bottom - len);
      });
      stepValues(p.y.min, p.y.max, p.y.minor).forEach(v => {
        const py = Math.round(ys.getPixelForValue(v)) + 0.5;
        const len = p.y.ticks.includes(v) ? 8 : 6.5;
        ctx.moveTo(a.left, py); ctx.lineTo(a.left + len, py);
      });
      ctx.stroke();
      // title
      ctx.fillStyle = '#111';
      ctx.font = `14px ${FONT}`;
      ctx.textAlign = 'center';
      ctx.textBaseline = 'middle';
      ctx.fillText(p.title, p.titleX, p.titleY);
      // legend
      ctx.font = `12px ${FONT}`;
      ctx.textAlign = 'left';
      p.legend.forEach(([f, kind, x, y]) => {
        const col = FILTERS[f].color;
        if (kind === 'l') {
          ctx.fillStyle = col;
          ctx.fillRect(x - 3, y - 1, 6, 2);
        } else {
          ctx.strokeStyle = col; ctx.lineWidth = 1.5;
          ctx.beginPath();
          ctx.moveTo(x, y - 9); ctx.lineTo(x, y + 9);
          ctx.moveTo(x - 3.5, y - 9); ctx.lineTo(x + 3.5, y - 9);
          ctx.moveTo(x - 3.5, y + 9); ctx.lineTo(x + 3.5, y + 9);
          ctx.stroke();
          const img = markers[f];
          ctx.drawImage(img, x - img.width / 2, y - img.height / 2);
        }
        ctx.fillStyle = '#111';
        ctx.textBaseline = 'middle';
        ctx.fillText(f, x + 9, y);
      });
      // fit summary
      ctx.fillStyle = '#111';
      p.annot.lines.forEach((line, i) => drawRich(ctx, p.annot.x, p.annot.y + i * 17.6 + 5, line));
      ctx.restore();
    }
  };
}

function buildPanel(p) {
  const w = CELL_W[p.col], h = CELL_H;
  const cv = document.createElement('canvas');
  cv.width = w; cv.height = h;
  cv.style.left = CELL_X[p.col] + 'px';
  cv.style.top = CELL_Y[p.row] + 'px';
  cv.style.width = w + 'px';
  cv.style.height = h + 'px';
  document.body.appendChild(cv);

  const markers = {};
  p.series.forEach(s => { markers[s.f] = markerCanvas(FILTERS[s.f].shape, FILTERS[s.f].color); });

  const datasets = [];
  let ord = 1000;
  const lineBase = { type: 'line', showLine: true, pointRadius: 0, fill: false, cubicInterpolationMode: 'monotone', clip: 0 };
  // model uncertainty bands
  p.series.forEach(s => {
    if (s.model) datasets.push(Object.assign({}, lineBase, { data: curve(s.model), borderColor: rgba(FILTERS[s.f].color, 0.27), borderWidth: 8, order: ord-- }));
  });
  // model curves
  p.series.forEach(s => {
    if (s.model) datasets.push(Object.assign({}, lineBase, { data: curve(s.model), borderColor: FILTERS[s.f].color, borderWidth: 2, order: ord-- }));
  });
  // limits and photometry
  p.series.forEach(s => {
    const col = FILTERS[s.f].color;
    if (s.limMjd) datasets.push({ type: 'line', showLine: false, data: pts(s.limMjd, s.limMag), pointStyle: limitCanvas(col), pointRadius: 6, clip: false, order: ord-- });
    if (s.mjd) datasets.push({ type: 'line', showLine: false, data: pts(s.mjd, s.mag), errs: s.err, errColor: col, pointStyle: markers[s.f], pointRadius: 6, clip: false, order: ord-- });
  });

  new Chart(cv, {
    type: 'line',
    data: { datasets },
    options: {
      responsive: false,
      animation: false,
      devicePixelRatio: 1,
      events: [],
      layout: { padding: { left: 0, top: p.box.T, right: w - p.box.R, bottom: 0 } },
      plugins: { legend: { display: false }, tooltip: { enabled: false }, title: { display: false } },
      scales: {
        x: {
          type: 'linear', min: p.x.min, max: p.x.max,
          grid: { display: false, drawTicks: false }, border: { display: false },
          ticks: { font: { family: FONT, size: 14 }, color: '#111', padding: 3, autoSkip: false, maxRotation: 0, minRotation: 0, callback: v => String(v) },
          afterBuildTicks: sc => { sc.ticks = p.x.ticks.map(v => ({ value: v })); },
          afterFit: sc => { sc.height = h - p.box.B; },
          title: { display: true, text: 'MJD [days]', font: { family: FONT, size: 15 }, color: '#111', padding: { top: 0, bottom: 4 } }
        },
        y: {
          type: 'linear', reverse: true, min: p.y.min, max: p.y.max,
          grid: { display: false, drawTicks: false }, border: { display: false },
          ticks: { font: { family: FONT, size: 14 }, color: '#111', padding: 5, autoSkip: false, callback: v => String(v) },
          afterBuildTicks: sc => { sc.ticks = p.y.ticks.map(v => ({ value: v })); },
          afterFit: sc => { sc.width = p.box.L; },
          title: { display: true, text: 'Vega mag', font: { family: FONT, size: 15 }, color: '#111', padding: { top: 7, bottom: 0 } }
        }
      }
    },
    plugins: [errorBarPlugin, decorPlugin(p, markers)]
  });
}

PANELS.forEach(buildPanel);
</script>
</body>
</html>
